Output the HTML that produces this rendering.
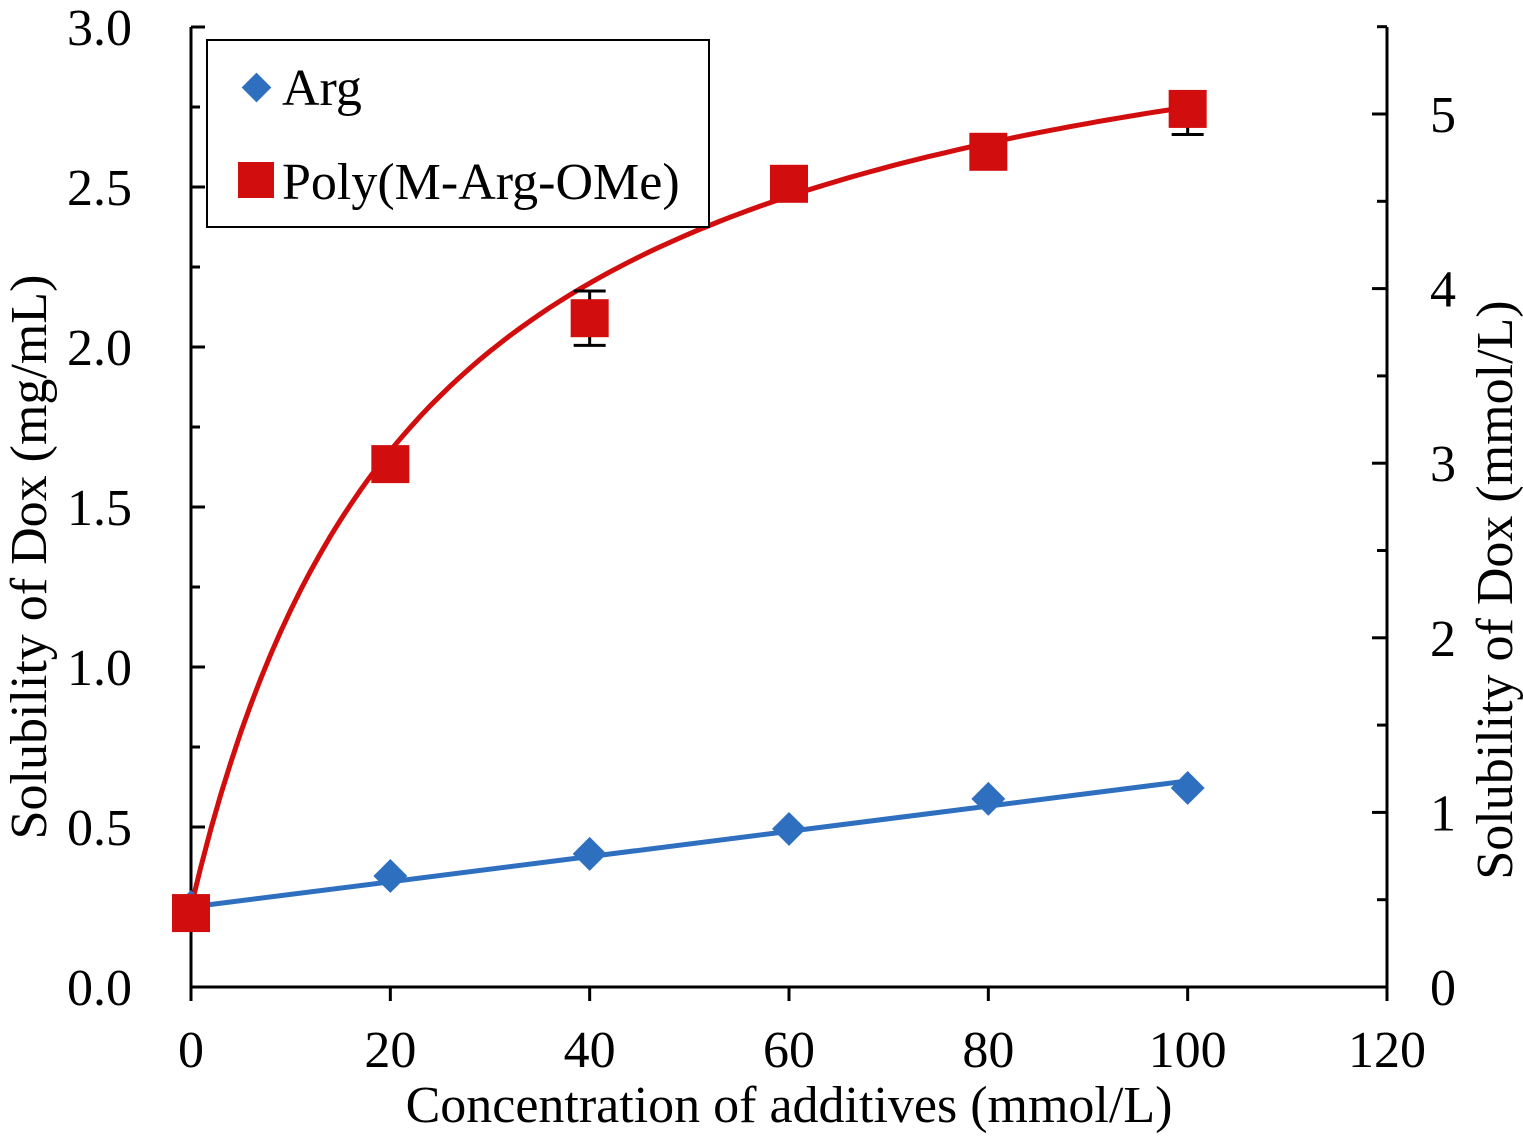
<!DOCTYPE html>
<html><head><meta charset="utf-8"><style>
html,body{margin:0;padding:0;background:#fff;}
svg text{font-family:"Liberation Serif",serif;fill:#000;}
</style></head><body>
<svg id="chart" width="1523" height="1138" viewBox="0 0 1523 1138" xmlns="http://www.w3.org/2000/svg">
<g id="axes"></g>
<g id="series"></g>
<g>
  <rect x="207" y="40" width="502" height="187" fill="#fff" stroke="#000" stroke-width="2"/>
  <rect x="246" y="77" width="21" height="21" fill="#2e6fc0" transform="rotate(45 256.5 87.5)"/>
  <text x="282" y="105" font-size="52">Arg</text>
  <rect x="238" y="162" width="36" height="36" fill="#d20d0d"/>
  <text x="282" y="199" font-size="52">Poly(M-Arg-OMe)</text>
</g>
<text x="789" y="1122" font-size="52" text-anchor="middle">Concentration of additives (mmol/L)</text>
<text transform="translate(46 557) rotate(-90)" font-size="52" text-anchor="middle">Solubility of Dox (mg/mL)</text>
<text transform="translate(1512 590) rotate(-90)" font-size="52" text-anchor="middle">Solubility of Dox (mmol/L)</text>
</svg>
<script>
const xTicks = [0, 20, 40, 60, 80, 100, 120];
const yLeftTicks = [0.0, 0.5, 1.0, 1.5, 2.0, 2.5, 3.0];
const yLeftLabels = ["0.0", "0.5", "1.0", "1.5", "2.0", "2.5", "3.0"];
const yRightTicks = [0, 1, 2, 3, 4, 5];
const conc = [0, 20, 40, 60, 80, 100];
const argValues = [0.25, 0.347, 0.416, 0.494, 0.588, 0.622];
const polyValues = [0.231, 1.634, 2.09, 2.51, 2.61, 2.744];
const polyErrLow = [0, 0, 0.085, 0, 0, 0.08];
const polyErrHigh = [0, 0, 0.085, 0, 0, 0];
const argFit = [0.25, 0.00394];       // intercept, slope
const polyFit = [0.25, 3.08, 23.2];    // y0, a, b : y0 + a x/(b+x)

const L = 191, R = 1387, T = 27, B = 987;
const xS = v => L + v / 120 * (R - L);
const yS = v => B - v / 3 * (B - T);
const yR = v => B - v * 174.6;
const NS = "http://www.w3.org/2000/svg";
function mk(tag, attrs, parent) {
  const e = document.createElementNS(NS, tag);
  for (const k in attrs) e.setAttribute(k, attrs[k]);
  parent.appendChild(e);
  return e;
}
const ax = document.getElementById('axes');
const se = document.getElementById('series');

let e = mk('path', {d: `M${L} ${T}V${B}H${R}V${T}`, fill: 'none', stroke: '#000', 'stroke-width': 3}, ax);



xTicks.forEach(v => {
  const x = xS(v);
  let t = mk('line', {x1: x, x2: x, y1: B, y2: B + 14, stroke: '#000', 'stroke-width': 3}, ax);
  
  
  let l = mk('text', {x: x, y: B + 80, 'font-size': 52, 'text-anchor': 'middle'}, ax);
  l.textContent = v;
  
  
});
yLeftTicks.forEach((v, i) => {
  const y = yS(v);
  let t = mk('line', {x1: L, x2: L + 14, y1: y, y2: y, stroke: '#000', 'stroke-width': 3}, ax);
  
  
  if (i < yLeftTicks.length - 1) {
    let m = mk('line', {x1: L, x2: L + 9, y1: yS(v + 0.25), y2: yS(v + 0.25), stroke: '#000', 'stroke-width': 3}, ax);
    
    
  }
  let l = mk('text', {x: 132, y: y + 18, 'font-size': 52, 'text-anchor': 'end'}, ax);
  l.textContent = yLeftLabels[i];
  
  
});
yRightTicks.forEach(v => {
  const y = yR(v);
  let t = mk('line', {x1: R, x2: R - 15, y1: y, y2: y, stroke: '#000', 'stroke-width': 3}, ax);
  
  
  let m = mk('line', {x1: R, x2: R - 10, y1: yR(v + 0.5), y2: yR(v + 0.5), stroke: '#000', 'stroke-width': 3}, ax);
  
  
  let l = mk('text', {x: R + 56, y: y + 18, 'font-size': 52, 'text-anchor': 'middle'}, ax);
  l.textContent = v;
  
  
});

let pd = '';
for (let x = 0; x <= 100; x += 1) {
  const y = polyFit[0] + polyFit[1] * x / (polyFit[2] + x);
  pd += (x ? 'L' : 'M') + xS(x).toFixed(1) + ' ' + yS(y).toFixed(1);
}
e = mk('path', {d: pd, fill: 'none', stroke: '#d20d0d', 'stroke-width': 5}, se);


e = mk('line', {x1: xS(0), y1: yS(argFit[0]), x2: xS(100), y2: yS(argFit[0] + argFit[1] * 100), stroke: '#2e6fc0', 'stroke-width': 5}, se);



conc.forEach((c, i) => {
  const x = xS(c), yc = yS(polyValues[i]);
  let d = '';
  if (polyErrHigh[i]) { const y1 = yS(polyValues[i] + polyErrHigh[i]); d += `M${x} ${yc}V${y1}M${x-16} ${y1}H${x+16}`; }
  if (polyErrLow[i]) { const y2 = yS(polyValues[i] - polyErrLow[i]); d += `M${x} ${yc}V${y2}M${x-16} ${y2}H${x+16}`; }
  if (!d) return;
  let b = mk('path', {d: d, stroke: '#000', 'stroke-width': 3, fill: 'none'}, se);
  
  
});
conc.forEach((c, i) => {
  const x = xS(c), y = yS(argValues[i]);
  let d = mk('rect', {x: x - 12, y: y - 12, width: 24, height: 24, fill: '#2e6fc0', transform: `rotate(45 ${x} ${y})`}, se);
  
  
});
conc.forEach((c, i) => {
  const x = xS(c), y = yS(polyValues[i]);
  let s = mk('rect', {x: x - 19, y: y - 19, width: 38, height: 38, fill: '#d20d0d'}, se);
  
  
});
</script>
</body></html>
